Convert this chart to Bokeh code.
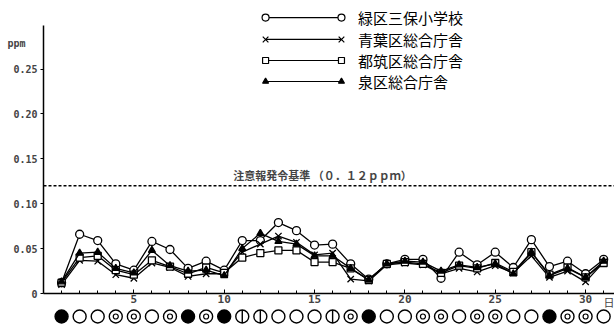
from bokeh.plotting import figure
from bokeh.models import Range1d, FixedTicker, Label
from bokeh.core.properties import value
from bokeh.embed import file_html
from bokeh.resources import INLINE

days = list(range(1, 32))
midori = [0.012, 0.066, 0.059, 0.033, 0.026, 0.058, 0.049, 0.028, 0.036, 0.026,
          0.059, 0.059, 0.079, 0.070, 0.054, 0.055, 0.033, 0.016, 0.033, 0.038,
          0.038, 0.017, 0.046, 0.032, 0.046, 0.029, 0.060, 0.030, 0.036, 0.022, 0.038]
aoba = [0.010, 0.037, 0.036, 0.021, 0.017, 0.034, 0.029, 0.019, 0.022, 0.022,
        0.046, 0.055, 0.064, 0.057, 0.043, 0.045, 0.016, 0.014, 0.032, 0.034,
        0.032, 0.022, 0.028, 0.024, 0.031, 0.023, 0.042, 0.018, 0.025, 0.013, 0.035]
tsuzuki = [0.012, 0.040, 0.042, 0.026, 0.021, 0.037, 0.030, 0.022, 0.029, 0.023,
           0.040, 0.045, 0.048, 0.048, 0.035, 0.035, 0.028, 0.015, 0.033, 0.035,
           0.033, 0.023, 0.031, 0.028, 0.034, 0.024, 0.046, 0.021, 0.029, 0.018, 0.034]
izumi = [0.013, 0.045, 0.046, 0.028, 0.023, 0.048, 0.031, 0.025, 0.026, 0.020,
         0.050, 0.067, 0.058, 0.055, 0.042, 0.042, 0.028, 0.015, 0.033, 0.036,
         0.035, 0.025, 0.032, 0.029, 0.033, 0.022, 0.046, 0.020, 0.028, 0.018, 0.036]
series_names = ["緑区三保小学校", "青葉区総合庁舎", "都筑区総合庁舎", "泉区総合庁舎"]
weather = ["雨", "快晴", "快晴", "曇", "曇", "快晴", "曇", "雨", "曇", "雨",
           "晴", "晴", "快晴", "快晴", "快晴", "晴", "曇", "雨", "快晴", "快晴",
           "曇", "曇", "快晴", "曇", "曇", "快晴", "快晴", "雨", "曇", "曇", "快晴"]
y_ticks = [0, 0.05, 0.1, 0.15, 0.2, 0.25]
y_tick_labels = ["0", "0.05", "0.10", "0.15", "0.20", "0.25"]
x_ticks = [5, 10, 15, 20, 25, 30]
threshold = 0.12
threshold_label = "注意報発令基準 （０．１２ｐｐｍ）"

MONO = "DejaVu Sans Mono"
CJK = "Noto Sans CJK JP"
X_END = 31.6

p = figure(width=614, height=324, output_backend="svg", toolbar_location=None,
           x_range=Range1d(-2.38, X_END), y_range=Range1d(-0.0345, 0.3263),
           min_border_left=0, min_border_right=0, min_border_top=0, min_border_bottom=0)
p.grid.visible = False
p.outline_line_color = None
p.background_fill_color = "white"

# y axis (placed at x = 0 inside the frame)
ya = p.yaxis[0]
ya.ticker = FixedTicker(ticks=y_ticks)
ya.major_label_overrides = {t: l for t, l in zip(y_ticks, y_tick_labels)}
ya.fixed_location = 0
ya.bounds = (0, 0.298)
ya.major_tick_in = 0
ya.major_tick_out = 3
ya.minor_tick_line_color = None
ya.axis_line_width = 1.5
ya.major_label_text_font = MONO
ya.major_label_text_font_style = "bold"
ya.major_label_text_font_size = "10px"
ya.major_label_standoff = 3

# x axis (placed at y = 0 inside the frame)
xa = p.xaxis[0]
xa.ticker = FixedTicker(ticks=x_ticks, minor_ticks=days)
xa.fixed_location = 0
xa.bounds = (0, X_END)
xa.major_tick_in = 4
xa.major_tick_out = 0
xa.minor_tick_in = 3
xa.minor_tick_out = 0
xa.axis_line_width = 1.5
xa.major_label_text_font = MONO
xa.major_label_text_font_style = "bold"
xa.major_label_text_font_size = "11px"
xa.major_label_standoff = 1

# threshold line starting at the y axis
p.segment(x0=[0], y0=[threshold], x1=[X_END], y1=[threshold], line_color="black",
          line_dash="3 2", line_width=1.5)
p.add_layout(Label(x=10.5, y=threshold, y_offset=3, text=threshold_label,
                   text_font=CJK, text_font_size="11px", text_font_style="bold",
                   text_baseline="bottom"))

styles = [
    dict(marker="circle", size=8, fill_color="white"),
    dict(marker="x", size=9, fill_color="white"),
    dict(marker="square", size=7, fill_color="white"),
    dict(marker="triangle", size=7, fill_color="black"),
]
data = [midori, aoba, tsuzuki, izumi]
for vals, st in zip(data, styles):
    p.line(days, vals, line_color="black", line_width=1.3)
    p.scatter(days, vals, marker=st["marker"], size=st["size"],
              fill_color=st["fill_color"], line_color="black", line_width=1.3)

# legend (hand-drawn)
leg_x0, leg_x1, leg_tx = 12.29, 16.49, 17.4
leg_y = [0.3073, 0.2829, 0.2595, 0.2361]
for name, st, ly in zip(series_names, styles, leg_y):
    p.line([leg_x0, leg_x1], [ly, ly], line_color="black", line_width=1.2)
    p.scatter([leg_x0, leg_x1], [ly, ly], marker=st["marker"], size=st["size"] - 1,
              fill_color=st["fill_color"], line_color="black", line_width=1.2)
    p.text([leg_tx], [ly], text=[name], text_font=value(CJK), text_font_size="15px",
           text_baseline="middle", text_align="left")

# axis unit labels
p.add_layout(Label(x=-1.99, y=0.278, text="ppm", text_font=MONO,
                   text_font_size="10px", text_font_style="bold", text_baseline="middle"))
p.add_layout(Label(x=X_END, y=-0.0095, text="日", text_font=CJK, text_font_size="11px",
                   text_baseline="middle", text_align="right"))

# weather symbols
wy = -0.0256
p.scatter(days, [wy] * 31, marker="circle", size=13,
          fill_color=["black" if w == "雨" else "white" for w in weather],
          line_color="black", line_width=1.4)
inner_d = [d for d, w in zip(days, weather) if w == "曇"]
p.scatter(inner_d, [wy] * len(inner_d), marker="circle", size=5, fill_color="white",
          line_color="black", line_width=1.2)
bar_d = [d for d, w in zip(days, weather) if w == "晴"]
p.scatter(bar_d, [wy] * len(bar_d), marker="dash", size=13, angle=1.5708,
          line_color="black", line_width=1.4)

open("out.html", "w").write(file_html(p, INLINE))
